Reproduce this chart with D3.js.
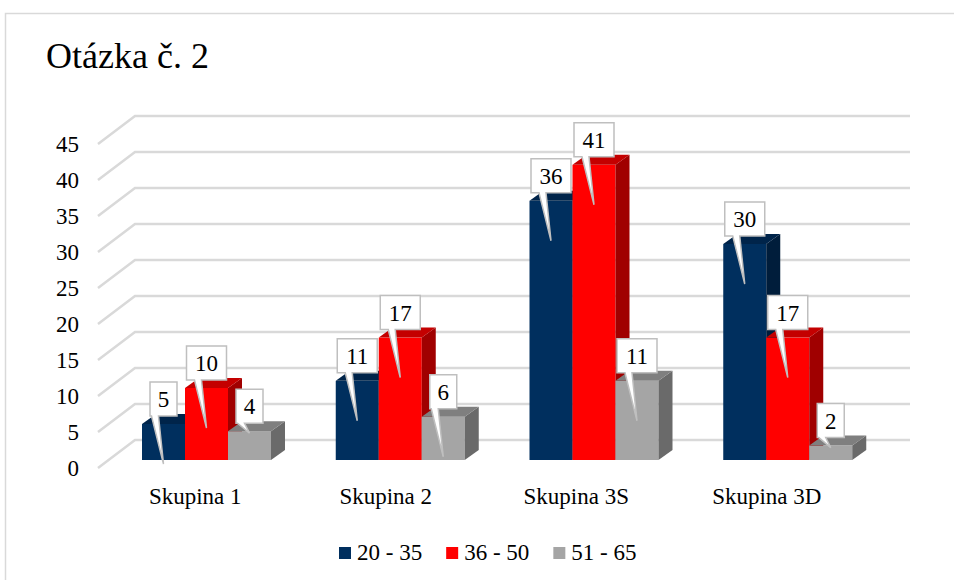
<!DOCTYPE html>
<html>
<head>
  <meta charset="UTF-8" />
  <title>Otázka č. 2</title>
  <script src="https://d3js.org/d3.v7.min.js"></script>
</head>
<body style="margin:0">
<svg id="chart" width="954" height="580"></svg>
<script>
  // data
  const categories = ["Skupina 1", "Skupina 2", "Skupina 3S", "Skupina 3D"];
  const seriesNames = ["20 - 35", "36 - 50", "51 - 65"];
  const values20to35 = [5, 11, 36, 30];
  const values36to50 = [10, 17, 41, 17];
  const values51to65 = [4, 6, 11, 2];
  const yTicks = [0, 5, 10, 15, 20, 25, 30, 35, 40, 45];

  const series = [
    { name: seriesNames[0], values: values20to35, front: "#002f5e", top: "#00244a", side: "#001d3b" },
    { name: seriesNames[1], values: values36to50, front: "#ff0000", top: "#c40000", side: "#a00000" },
    { name: seriesNames[2], values: values51to65, front: "#a5a5a5", top: "#7f7f7f", side: "#6a6a6a" }
  ];

  const svg = d3.select("#chart");

  // every text gets the serif face inline
  const label = (sel, size) => sel
    .style("font-family", '"Liberation Serif"')
    .style("font-size", size + "px")
    .attr("fill", "#000");

  // outer chart frame (runs off the page to the right and bottom)
  svg.append("rect")
    .attr("x", 5.5).attr("y", 13.5)
    .attr("width", 1000).attr("height", 1000)
    .attr("fill", "#fff").attr("stroke", "#d9d9d9").attr("stroke-width", 1.5);

  label(svg.append("text"), 36)
    .attr("x", 46).attr("y", 68)
    .text("Otázka č. 2");

  // 3D geometry: back wall scale, front edge is shifted down-left
  const y = d3.scaleLinear().domain([0, 45]).range([440, 116]);
  const depthX = 37, depthY = 28;      // floor depth
  const backLeft = 135, backRight = 910;
  const barDrop = 20;                   // bars stand between front and back
  const barDx = 14, barDy = -10;        // bar depth

  // gridlines with the slanted left-wall part
  svg.append("g").selectAll("path")
    .data(yTicks)
    .join("path")
    .attr("fill", "none")
    .attr("stroke", "#d9d9d9")
    .attr("stroke-width", 2.5)
    .attr("d", d => `M${backLeft - depthX},${y(d) + depthY} L${backLeft},${y(d)} H${backRight}`);

  label(svg.append("g").selectAll("text")
    .data(yTicks)
    .join("text"), 23)
    .attr("x", 79)
    .attr("y", d => y(d) + depthY + 8)
    .attr("text-anchor", "end")
    .text(d => d);

  // category bands along the front of the floor
  const x = d3.scaleBand().domain(categories).range([backLeft - depthX, backRight - depthX]);
  const xInner = d3.scaleBand().domain(seriesNames).range([44, 44 + 129]);
  const labelX = d3.scaleBand().domain(categories).range([100, 862]);

  const bars = svg.append("g");
  categories.forEach((cat, ci) => {
    series.forEach(s => {
      const v = s.values[ci];
      const x0 = x(cat) + xInner(s.name);
      const x1 = x0 + xInner.bandwidth();
      const yb = y(0) + barDrop;
      const yt = y(v) + barDrop;
      const g = bars.append("g");
      // front face
      g.append("rect")
        .attr("x", x0).attr("y", yt)
        .attr("width", x1 - x0).attr("height", yb - yt)
        .attr("fill", s.front);
      // right side
      g.append("path")
        .attr("d", `M${x1},${yt} L${x1 + barDx},${yt + barDy} L${x1 + barDx},${yb + barDy} L${x1},${yb} Z`)
        .attr("fill", s.side);
      // top
      g.append("path")
        .attr("d", `M${x0},${yt} L${x0 + barDx},${yt + barDy} L${x1 + barDx},${yt + barDy} L${x1},${yt} Z`)
        .attr("fill", s.top);
    });
  });

  // callout data labels
  const callouts = svg.append("g");
  categories.forEach((cat, ci) => {
    series.forEach(s => {
      const v = s.values[ci];
      const cx = x(cat) + xInner(s.name) + xInner.bandwidth() / 2;
      const bottom = y(v) + barDrop - 8;
      const top = bottom - 34;
      const txt = String(v);
      const w = txt.length > 1 ? 40 : 27;
      const left = cx - w / 2, right = cx + w / 2;
      const len = v < 5 ? 10 : 48;
      callouts.append("path")
        .attr("fill", "#fff")
        .attr("stroke", "#bfbfbf")
        .attr("stroke-width", 1.5)
        .attr("d", `M${left},${top} H${right} V${bottom} H${cx - 5} L${cx},${bottom + len} L${cx - 12},${bottom} H${left} Z`);
      label(callouts.append("text"), 23)
        .attr("x", cx).attr("y", (top + bottom) / 2 + 8)
        .attr("text-anchor", "middle")
        .text(txt);
    });
  });

  label(svg.append("g").selectAll("text")
    .data(categories)
    .join("text"), 23)
    .attr("x", d => labelX(d) + labelX.bandwidth() / 2)
    .attr("y", 504)
    .attr("text-anchor", "middle")
    .text(d => d);

  // legend
  const legend = svg.append("g");
  let lx = 339;
  series.forEach(s => {
    legend.append("rect")
      .attr("x", lx).attr("y", 547)
      .attr("width", 12).attr("height", 12)
      .attr("fill", s.front);
    const t = label(legend.append("text"), 23)
      .attr("x", lx + 18).attr("y", 560)
      .text(s.name);
    lx += 18 + t.node().getComputedTextLength() + 24;
  });
</script>
</body>
</html>
